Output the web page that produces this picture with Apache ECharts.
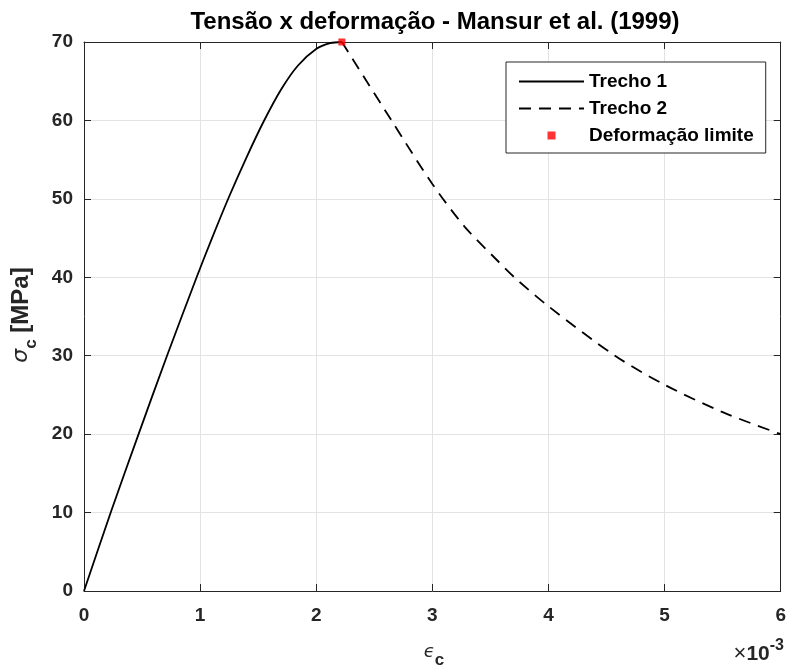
<!DOCTYPE html>
<html>
<head>
<meta charset="utf-8">
<script src="https://cdn.jsdelivr.net/npm/echarts@6/dist/echarts.min.js"></script>
<style>
  html, body { margin: 0; padding: 0; background: #ffffff; }
  #chart { width: 789px; height: 667px; }
</style>
</head>
<body>
<div id="chart"></div>
<script>
// Strain values are in units of 1e-3 (axis multiplier ×10^-3)
const epsTrecho1 = [0, 0.23, 0.47, 0.715, 0.97, 1.10, 1.25, 1.40, 1.545, 1.70, 1.843, 1.999, 2.12, 2.221];
const sigTrecho1 = [0, 10, 20, 30, 40, 44.9, 50.3, 55.3, 59.8, 64.0, 67.0, 69.1, 69.85, 70];
const epsTrecho2 = [2.221, 2.648, 3.0, 3.281, 3.549, 3.706, 4.0, 4.573, 5.0, 5.5, 6.0];
const sigTrecho2 = [70, 60, 51.9, 46.4, 42.3, 40, 36.3, 30, 26.3, 22.8, 20.0];
const epsLimite = [2.221];
const sigLimite = [70];
const seriesNames = ['Trecho 1', 'Trecho 2', 'Deformação limite'];
const xMin = 0, xMax = 6, xStep = 1;
const yMin = 0, yMax = 70, yStep = 10;

const pairs = (xs, ys) => xs.map((x, i) => [x, ys[i]]);

const FONT = 'Liberation Sans, Arial, Helvetica, sans-serif';
const AX = '#262626';

const chart = echarts.init(document.getElementById('chart'), null, { renderer: 'canvas' });

const option = {
  backgroundColor: '#ffffff',
  animation: false,
  title: {
    text: 'Tensão x deformação - Mansur et al. (1999)',
    left: 435,
    top: 10,
    padding: 0,
    textAlign: 'center',
    textStyle: { fontFamily: FONT, fontSize: 24, fontWeight: 'bold', color: '#000000' }
  },
  grid: { left: 84, right: 2, top: 42, bottom: 76, containLabel: false },
  legend: {
    orient: 'vertical',
    left: 506,
    top: 62,
    padding: [10, 12, 8, 12],
    itemWidth: 65,
    itemHeight: 8,
    itemGap: 8,
    borderColor: AX,
    borderWidth: 1,
    backgroundColor: '#ffffff',
    textStyle: { fontFamily: FONT, fontSize: 19, fontWeight: 'bold', color: '#000000' },
    data: [
      { name: seriesNames[0], itemStyle: { opacity: 0 } },
      { name: seriesNames[1], itemStyle: { opacity: 0 } },
      { name: seriesNames[2], icon: 'path://M0,0L1,0L1,1L0,1Z' }
    ]
  },
  xAxis: [
    {
      type: 'value', min: xMin, max: xMax, interval: xStep, position: 'bottom',
      axisLine: { show: true, onZero: false, lineStyle: { color: AX, width: 1 } },
      axisTick: { show: true, inside: true, length: 7, lineStyle: { color: AX } },
      axisLabel: { margin: 15, fontFamily: FONT, fontSize: 19, fontWeight: 'bold', color: AX },
      splitLine: { show: true, lineStyle: { color: '#e3e3e3', width: 1 } }
    },
    {
      type: 'value', min: xMin, max: xMax, interval: xStep, position: 'top',
      axisLine: { show: true, onZero: false, lineStyle: { color: AX, width: 1 } },
      axisTick: { show: true, inside: true, length: 7, lineStyle: { color: AX } },
      axisLabel: { show: false },
      splitLine: { show: false }
    }
  ],
  yAxis: [
    {
      type: 'value', min: yMin, max: yMax, interval: yStep, position: 'left',
      axisLine: { show: true, onZero: false, lineStyle: { color: AX, width: 1 } },
      axisTick: { show: true, inside: true, length: 7, lineStyle: { color: AX } },
      axisLabel: { margin: 11, fontFamily: FONT, fontSize: 19, fontWeight: 'bold', color: AX },
      splitLine: { show: true, lineStyle: { color: '#e3e3e3', width: 1 } }
    },
    {
      type: 'value', min: yMin, max: yMax, interval: yStep, position: 'right',
      axisLine: { show: true, onZero: false, lineStyle: { color: AX, width: 1 } },
      axisTick: { show: true, inside: true, length: 7, lineStyle: { color: AX } },
      axisLabel: { show: false },
      splitLine: { show: false }
    }
  ],
  series: [
    {
      name: seriesNames[0], type: 'line', xAxisIndex: 0, yAxisIndex: 0,
      data: pairs(epsTrecho1, sigTrecho1),
      symbol: 'none', smooth: 0.3,
      lineStyle: { color: '#000000', width: 1.8, type: 'solid' },
      itemStyle: { color: '#000000' }, z: 3
    },
    {
      name: seriesNames[1], type: 'line', xAxisIndex: 0, yAxisIndex: 0,
      data: pairs(epsTrecho2, sigTrecho2),
      symbol: 'none', smooth: 0.3,
      lineStyle: { color: '#000000', width: 1.8, type: [12, 8] },
      itemStyle: { color: '#000000' }, z: 3
    },
    {
      name: seriesNames[2], type: 'scatter', xAxisIndex: 0, yAxisIndex: 0,
      data: pairs(epsLimite, sigLimite),
      symbol: 'rect', symbolSize: 7,
      itemStyle: { color: '#ff0000' }, z: 5
    }
  ],
  graphic: [
    {
      type: 'text', x: 21.5, y: 315, rotation: Math.PI / 2,
      style: {
        text: '{s|σ}{sub|c}{u| [MPa]}',
        align: 'center', verticalAlign: 'middle',
        rich: {
          s: { fontFamily: 'DejaVu Sans, sans-serif', fontStyle: 'italic', fontSize: 22, fill: AX, lineHeight: 36, verticalAlign: 'middle' },
          sub: { fontFamily: FONT, fontWeight: 'bold', fontSize: 17, fill: AX, lineHeight: 12, verticalAlign: 'bottom' },
          u: { fontFamily: FONT, fontWeight: 'bold', fontSize: 24, fill: AX, lineHeight: 36, verticalAlign: 'middle' }
        }
      }
    },
    {
      type: 'text', x: 434, y: 652,
      style: {
        text: '{s|ϵ}{sub|c}',
        align: 'center', verticalAlign: 'middle',
        rich: {
          s: { fontFamily: 'DejaVu Sans, sans-serif', fontStyle: 'italic', fontSize: 18, fill: AX, lineHeight: 34, verticalAlign: 'middle' },
          sub: { fontFamily: FONT, fontWeight: 'bold', fontSize: 17, fill: AX, lineHeight: 12, verticalAlign: 'bottom' }
        }
      }
    },
    {
      type: 'text', x: 784, y: 654,
      style: {
        text: '{x|×}{n|10}{e|-3}',
        align: 'right', verticalAlign: 'middle',
        rich: {
          x: { fontFamily: FONT, fontSize: 22, fill: AX, lineHeight: 32, verticalAlign: 'middle' },
          n: { fontFamily: FONT, fontWeight: 'bold', fontSize: 21, fill: AX, lineHeight: 32, verticalAlign: 'middle' },
          e: { fontFamily: FONT, fontWeight: 'bold', fontSize: 16, fill: AX, lineHeight: 16, verticalAlign: 'top' }
        }
      }
    }
  ]
};

chart.setOption(option);
</script>
</body>
</html>
